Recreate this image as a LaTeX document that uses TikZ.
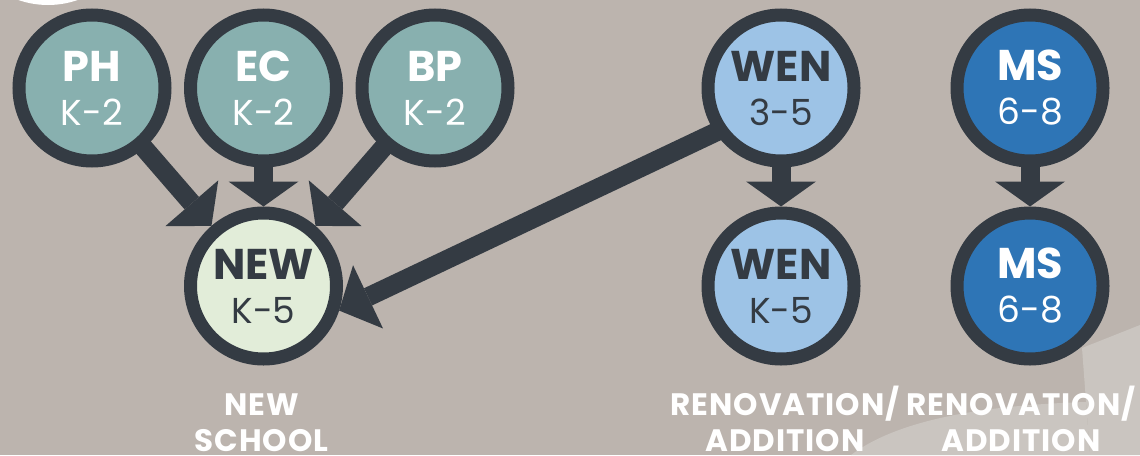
\documentclass[tikz,border=0pt]{standalone}
\usepackage{fontspec}
\setmainfont{Poppins}
\newfontfamily\captionfont[LetterSpace=3]{Poppins}
\usetikzlibrary{positioning,arrows.meta}

\definecolor{bgtaupe}{HTML}{BCB4AE}
\definecolor{bgpale}{HTML}{CAC5C0}
\definecolor{ringdark}{HTML}{343B43}
\definecolor{tealfill}{HTML}{88B0AF}
\definecolor{newfill}{HTML}{E2EDD9}
\definecolor{lightblue}{HTML}{9DC3E6}
\definecolor{darkblue}{HTML}{2E75B6}

\newcommand{\SchoolText}[2]{{\fontsize{43}{44}\selectfont\bfseries #1}\\#2}

\begin{document}
\begin{tikzpicture}[
    node distance=39pt and 12.5pt,
    school/.style={circle, draw=ringdark, line width=13pt, minimum size=146pt,
      inner sep=0pt, align=center, text=white, font=\fontsize{36}{44}\selectfont},
    flow/.style={draw=ringdark, line width=19pt, shorten <=-6pt,
      -{Triangle[width=70pt, length=#1, line width=0pt]}},
    flow/.default=30pt,
    caption/.style={inner sep=0pt, text height=58pt, align=center, text=white,
      font=\captionfont\fontsize{31}{36}\selectfont\bfseries}
  ]
		\useasboundingbox (0,0) rectangle (1140pt,-455pt);

		% Background
		\begin{scope}
		\clip (0,0) rectangle (1140pt,-455pt);
		\fill[bgtaupe] (0,0) rectangle (1140pt,-455pt);
		\fill[white] (48pt,85pt) circle (90pt);
		\fill[bgpale] (1082pt,-348pt) -- (1140pt,-325pt) -- (1140pt,-455pt) -- (1090pt,-455pt) -- cycle;
		\fill[bgpale] (851pt,-455pt) .. controls (900pt,-418pt) and (990pt,-405pt) .. (1086pt,-402pt) -- (1090pt,-455pt) -- cycle;
		\end{scope}

		% Define nodes
		\node[school, fill=tealfill] (PH) at (92pt,-88pt) {\SchoolText{PH}{K-2}};
		\node[school, fill=tealfill, right=of PH] (EC) {\SchoolText{EC}{K-2}};
		\node[school, fill=tealfill, right=of EC] (BP) {\SchoolText{BP}{K-2}};
		\node[school, fill=newfill, text=ringdark, below=of EC] (NEW) {\SchoolText{NEW}{K-5}};

		\node[school, fill=lightblue, text=ringdark, right=of BP, xshift=174.5pt] (WEN) {\SchoolText{WEN}{3-5}};
		\node[school, fill=lightblue, text=ringdark, below=of WEN] (WENnew) {\SchoolText{WEN}{K-5}};

		\node[school, fill=darkblue, right=of WEN, xshift=77.5pt] (MS) {\SchoolText{MS}{6-8}};
		\node[school, fill=darkblue, below=of MS] (MSnew) {\SchoolText{MS}{6-8}};

		% Connect the nodes
		\draw[flow] (PH) -- (NEW);
		\draw[flow=25pt] (EC) -- (NEW);
		\draw[flow] (BP) -- (NEW);
		\draw[flow=32pt] (WEN.214) -- (NEW.-18);
		\draw[flow=25pt] (WEN) -- (WENnew);
		\draw[flow=25pt] (MS) -- (MSnew);

		% Captions
		\node[caption, below=27.5pt of NEW, xshift=-2pt] (capNEW) {NEW\\SCHOOL};
		\node[caption, below=27.5pt of WENnew, xshift=4pt] (capWEN) {RENOVATION/\\ADDITION};
		\node[caption, below=27.5pt of MSnew, xshift=-9pt] (capMS) {RENOVATION/\\ADDITION};

	\end{tikzpicture}
\end{document}
